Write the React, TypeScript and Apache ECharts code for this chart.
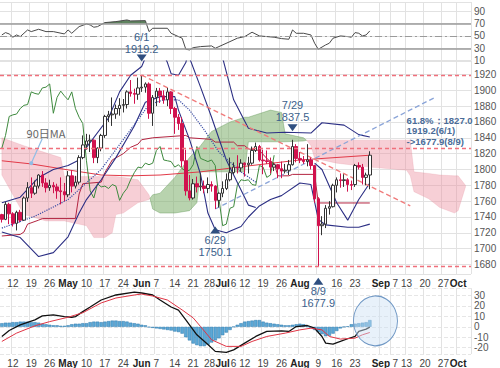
import React, { useEffect, useRef } from 'react';
import * as echarts from 'echarts';

// ---------- categories (trading days) ----------
const holidays = ['2021-05-31', '2021-07-05', '2021-09-06'];
const firstDay = '2021-04-07';
const dayCount = 128;
function tradingDays(start: string, count: number): string[] {
  const out: string[] = [];
  const d = new Date(start + 'T00:00:00Z');
  while (out.length < count) {
    const wd = d.getUTCDay();
    const s = d.toISOString().slice(0, 10);
    if (wd !== 0 && wd !== 6 && holidays.indexOf(s) < 0) out.push(s);
    d.setUTCDate(d.getUTCDate() + 1);
  }
  return out;
}
const dates = tradingDays(firstDay, dayCount);

const tickLabels: [string, string][] = [
  ['2021-04-12', '12'], ['2021-04-19', '19'], ['2021-04-26', '26'], ['2021-05-03', 'May'],
  ['2021-05-10', '10'], ['2021-05-17', '17'], ['2021-05-24', '24'], ['2021-06-01', 'Jun'],
  ['2021-06-07', '7'], ['2021-06-14', '14'], ['2021-06-21', '21'], ['2021-06-28', '28'],
  ['2021-07-01', 'Jul'], ['2021-07-06', '6'], ['2021-07-12', '12'], ['2021-07-19', '19'],
  ['2021-07-26', '26'], ['2021-08-02', 'Aug'], ['2021-08-09', '9'], ['2021-08-16', '16'],
  ['2021-08-23', '23'], ['2021-09-01', 'Sep'], ['2021-09-07', '7'], ['2021-09-13', '13'],
  ['2021-09-20', '20'], ['2021-09-27', '27'], ['2021-10-01', 'Oct'],
];
const monthNames = ['May', 'Jun', 'Jul', 'Aug', 'Sep', 'Oct'];
const nudgeRight = ['2021-07-06', '2021-09-07'];
const nudgeLeft = ['2021-06-28'];

// ---------- candles: [open, close, low, high] ----------
const candles: number[][] = [
  [1743, 1737, 1733, 1744], [1737, 1756, 1736, 1759], [1756, 1744, 1731, 1758], [1744, 1732, 1728, 1746],
  [1732, 1746, 1723, 1748], [1746, 1736, 1733, 1749], [1736, 1764, 1735, 1766], [1764, 1777, 1759, 1784],
  [1777, 1770, 1764, 1790], [1770, 1779, 1768, 1786], [1779, 1793, 1776, 1794], [1793, 1783, 1778, 1798],
  [1783, 1777, 1771, 1789], [1777, 1780, 1773, 1787], [1780, 1778, 1770, 1784], [1778, 1773, 1763, 1782],
  [1773, 1772, 1756, 1790], [1772, 1768, 1760, 1783], [1768, 1792, 1765, 1798], [1792, 1779, 1771, 1799],
  [1779, 1784, 1776, 1792], [1784, 1815, 1781, 1818], [1815, 1831, 1813, 1843], [1831, 1836, 1825, 1845],
  [1836, 1837, 1822, 1844], [1837, 1815, 1808, 1838], [1815, 1827, 1808, 1828], [1827, 1843, 1823, 1845],
  [1843, 1867, 1840, 1869], [1867, 1869, 1860, 1874], [1869, 1870, 1855, 1891], [1870, 1877, 1864, 1882],
  [1877, 1881, 1868, 1890], [1881, 1882, 1872, 1889], [1882, 1898, 1877, 1900], [1898, 1896, 1892, 1913],
  [1896, 1895, 1883, 1902], [1895, 1903, 1888, 1916], [1903, 1904, 1898, 1919.2], [1904, 1908, 1897, 1910],
  [1908, 1871, 1864, 1910], [1871, 1891, 1855, 1894], [1891, 1899, 1880, 1903], [1899, 1893, 1884, 1903],
  [1893, 1888, 1883, 1900], [1888, 1898, 1880, 1903], [1898, 1877, 1870, 1899], [1877, 1866, 1845, 1879],
  [1866, 1858, 1850, 1870], [1858, 1811, 1803, 1866], [1811, 1773, 1767, 1825], [1773, 1764, 1761, 1793],
  [1764, 1782, 1762, 1788], [1782, 1778, 1771, 1791], [1778, 1779, 1773, 1795], [1779, 1776, 1770, 1786],
  [1776, 1781, 1770, 1790], [1781, 1779, 1772, 1785], [1779, 1761, 1750.1, 1780], [1761, 1770, 1752, 1771],
  [1770, 1776, 1765, 1785], [1776, 1787, 1774, 1795], [1787, 1796, 1785, 1815], [1796, 1803, 1794, 1809],
  [1803, 1802, 1795, 1818], [1802, 1808, 1797, 1813], [1808, 1806, 1791, 1809], [1806, 1808, 1795, 1816],
  [1808, 1824, 1806, 1829], [1824, 1829, 1822, 1834], [1829, 1812, 1810, 1831], [1812, 1811, 1794, 1825],
  [1811, 1810, 1807, 1824], [1810, 1803, 1795, 1815], [1803, 1806, 1798, 1808], [1806, 1801, 1789, 1807],
  [1801, 1798, 1789, 1810], [1798, 1799, 1795, 1807], [1799, 1806, 1793, 1812], [1806, 1829, 1805, 1837.5],
  [1829, 1814, 1809, 1832], [1814, 1812, 1808, 1822], [1812, 1810, 1807, 1817], [1810, 1812, 1804, 1832],
  [1812, 1805, 1800, 1815], [1805, 1763, 1758, 1806], [1763, 1729, 1677.9, 1765], [1729, 1731, 1717, 1741],
  [1731, 1751, 1726, 1755], [1751, 1753, 1743, 1760], [1753, 1780, 1752, 1782], [1780, 1787, 1771, 1790],
  [1787, 1786, 1777, 1795], [1786, 1787, 1778, 1794], [1787, 1781, 1772, 1789], [1781, 1780, 1774, 1786],
  [1781, 1805, 1778, 1807], [1805, 1803, 1800, 1809], [1803, 1790, 1781, 1807], [1790, 1793, 1780, 1796],
  [1793, 1818, 1775, 1823],
];
const chikouShift = 26;

// ---------- Ichimoku cloud (index, span A, span B) ----------
const cloudIdx = [0, 6, 12, 16, 17, 23, 25, 28, 30, 31, 33, 37, 40, 41, 43, 47, 51, 53, 54, 57, 62, 66, 67, 73, 76, 77, 82, 83, 84, 85, 91, 100, 110, 111, 112, 116, 119, 123, 124, 126];
const spanA = [1793, 1743, 1735, 1735, 1735, 1729, 1714, 1714, 1720, 1743, 1745, 1758, 1762, 1768, 1770, 1790, 1815, 1825, 1830, 1848, 1860, 1866, 1866, 1875, 1872, 1845, 1840, 1836, 1830, 1814, 1808, 1803, 1799, 1792, 1772, 1763, 1752, 1745, 1748, 1778];
const spanB = [1840, 1830, 1821, 1815, 1791, 1791, 1791, 1791, 1791, 1791, 1790, 1787, 1768, 1750, 1745, 1745, 1748, 1758, 1797, 1797, 1797, 1797, 1835, 1835, 1835, 1835, 1836, 1837, 1837, 1837, 1837, 1837, 1837, 1837, 1797, 1795, 1793, 1792, 1792, 1780];

// ---------- line studies ([index, price]) ----------
const kijun = [[0, 1716], [5, 1718], [6, 1721], [7, 1731], [10, 1736], [11, 1738], [20, 1738], [21, 1769], [22, 1782], [27, 1784], [28, 1796], [30, 1812], [33, 1820], [35, 1828], [37, 1832], [38, 1837.6], [41, 1840], [50, 1843], [51, 1840], [57, 1838], [58, 1834.6], [63, 1834.6], [64, 1830], [66, 1830], [67, 1826], [70, 1824], [72, 1814], [73, 1810], [74, 1808], [75, 1792], [78, 1792], [79, 1793.8], [85, 1793.8], [86, 1757.7], [100, 1757.7]];
const ma90 = [[0, 1811], [8, 1807], [18, 1799.5], [27, 1793], [35, 1792], [43, 1793], [54, 1797], [67, 1804.5], [81, 1812], [100, 1818]];
const bandUpper = [[0, 1758], [5, 1765], [10, 1790], [14, 1800], [18, 1805], [21, 1812], [23, 1828], [29, 1865], [32, 1898], [35, 1919], [38, 1930], [39, 1941], [41, 1950], [44, 1945], [45, 1935], [46, 1921], [48, 1919], [50, 1935], [51, 1955], [56, 1970], [59, 1955], [60, 1941], [63, 1888], [67, 1852], [72, 1846], [77, 1847], [84, 1846], [87, 1859], [93, 1856], [97, 1844], [100, 1841]];
const bandLower = [[0, 1721], [5, 1714], [10, 1690], [14, 1695], [18, 1715], [21, 1745], [23, 1762], [27, 1787], [31, 1815], [36, 1855], [39, 1885], [43, 1892], [47, 1892], [48, 1875], [51, 1838], [54, 1794], [56, 1745], [58, 1724], [61, 1720], [65, 1728], [67, 1740], [70, 1754], [73, 1762], [76, 1767], [81, 1783], [84, 1781], [86, 1737], [88, 1730], [94, 1727], [97, 1727], [100, 1731]];
const bandInnerJun = [[51, 1941], [54, 1904], [57, 1866], [61, 1812], [65, 1774], [67, 1755], [69, 1752]];
const bandInnerAug = [[85, 1808], [87, 1800], [91, 1758], [94, 1736], [97, 1762], [100, 1783]];
const sarDots = [[0, 1726], [9, 1741], [18, 1762], [27, 1800], [34, 1844], [40, 1882], [44, 1888], [48, 1888], [51, 1875], [55, 1850], [59, 1822], [65, 1797], [69, 1784]];
const trendDown = [[38, 1919.2], [111, 1754]];
const trendUp = [[58, 1750.1], [118, 1891.7]];
const levels = [1919.2, 1827.0, 1677.9];

// ---------- RSI ----------
const rsi = [[0, 51.6], [1, 55.4], [2, 53.2], [3, 47.9], [4, 51.6], [5, 48.9], [7, 59.7], [8, 57], [10, 60.8], [12, 57], [14, 57], [17, 53.2], [18, 59.7], [19, 54.3], [21, 65.1], [23, 69.4], [24, 67.8], [25, 64.1], [26, 65.1], [28, 71.6], [31, 73.2], [34, 75.9], [35, 74.3], [39, 74.8], [40, 57], [41, 62.4], [45, 62.4], [46, 54.3], [48, 48.9], [49, 46.3], [50, 28.4], [51, 27.3], [52, 31], [54, 32.7], [57, 33.8], [58, 30], [59, 32.7], [62, 40.8], [64, 46.3], [66, 48.9], [68, 56], [70, 50], [74, 47.9], [76, 45.7], [78, 44.6], [79, 59.7], [80, 54.3], [82, 54.3], [84, 51.6], [85, 38.2], [86, 28.4], [88, 35.4], [89, 38.2], [90, 46.3], [92, 50], [94, 48.9], [95, 47.9], [96, 55.4], [97, 54.3], [98, 50], [99, 51.6], [100, 58.1]];
const rsiHotLevel = 70;

// ---------- MACD ----------
const macdHist = [3.5, 4, 4, 4.5, 4.5, 5, 5, 5, 4.5, 4.5, 4, 3, 2.5, 2, 1.5, 1.5, 1, 1, 1.5, 2.5, 3, 3, 3.5, 3.5, 4.5, 5, 5, 4.5, 5, 5.5, 6, 6, 5.5, 5.5, 5, 4, 3.5, 3, 2, 1.5, -0.5, -1, -1.5, -2, -2.5, -3, -3.5, -4.5, -5, -6.5, -10, -13, -16, -17.5, -18.5, -18.5, -17, -15, -13, -11, -8, -5.5, -3, 0, 2, 3.5, 5, 5.5, 6, 6.5, 6.5, 5, 4, 3.5, 3, 2.5, 2, 1.5, 1.5, 2, 2.5, 3, 2.5, 1, -1, -3, -5, -7, -9, -8.5, -6.5, -4, -1.5, 0, 0.5, 2.5, 3, 3.5, 4, 4.5, 6.5];
const macdLine = [[0, -9.2], [2, -3.5], [5, 1.9], [9, 6.7], [11, 10.5], [14, 11.4], [17, 9.8], [19, 9.2], [20, 9.8], [22, 14.6], [24, 19], [27, 25.7], [31, 30.5], [36, 33.3], [38, 32.4], [41, 30.5], [43, 25.7], [46, 19], [48, 16], [50, 6.7], [53, -7.6], [56, -17], [58, -23.5], [61, -24.5], [63, -22], [66, -15.6], [69, -9.2], [72, -4.4], [76, -3.8], [78, -4.4], [80, 0.3], [83, 1.3], [85, -1.3], [87, -9.2], [88, -15.6], [90, -16.5], [92, -14], [94, -11.4], [96, -9.2], [97, -4.4], [99, -2.2], [100, -0.3]];
const signalLine = [[0, -14], [4, -6], [9, 1], [13, 5], [18, 9.2], [22, 13.5], [27, 22.9], [31, 27.6], [36, 30.5], [38, 31.4], [41, 29.5], [45, 25.7], [49, 16.2], [52, 8.6], [54, 0.3], [57, -12.4], [61, -18.7], [65, -18.7], [68, -14], [72, -9.2], [77, -6], [81, -2.9], [84, -1.3], [87, -2.9], [89, -9.2], [92, -11.7], [96, -10.8], [98, -7.6], [100, -5.4]];

// ---------- styling ----------
const FONT = 'Liberation Sans, Arial, sans-serif';
const NOTE = '#3b5f8c';
const NAVY = '#2c2f84';

const labelMap = new Map(tickLabels);
const isTick = (_i: number, v: string) => labelMap.has(v);

function makeX(gridIndex: number, show: boolean, skip: string[] = []) {
  return {
    type: 'category', gridIndex, data: dates, boundaryGap: true,
    axisLine: { show: false }, axisTick: { show: false },
    axisLabel: {
      show, interval: isTick, fontSize: 10, color: '#444', margin: 4, fontFamily: FONT,
      formatter: (v: string) => {
        if (skip.indexOf(v) >= 0) return '';
        const t = labelMap.get(v) || '';
        if (monthNames.indexOf(t) >= 0) return `{m|${t}}`;
        if (nudgeRight.indexOf(v) >= 0) return `{r|${t}}`;
        if (nudgeLeft.indexOf(v) >= 0) return `{l|${t}}`;
        return t;
      },
      rich: {
        m: { fontSize: 10, fontWeight: 'bold', color: '#222', fontFamily: FONT },
        r: { fontSize: 10, color: '#444', fontFamily: FONT, padding: [0, 0, 0, 7] },
        l: { fontSize: 10, color: '#444', fontFamily: FONT, padding: [0, 4, 0, 0] },
      },
    },
    splitLine: { show: true, interval: isTick, lineStyle: { color: '#e2e2e2', width: 1 } },
  };
}

function yLabel() {
  return { fontSize: 10, color: '#555', margin: 3, fontFamily: FONT, showMinLabel: false, showMaxLabel: false, formatter: (v: number) => String(v) };
}

function lineSeries(data: number[][], color: string, width: number, dash: any = 'solid', extra: any = {}) {
  return {
    type: 'line', xAxisIndex: 1, yAxisIndex: 1, data, symbol: 'none', silent: true, z: 3,
    lineStyle: { color, width, type: dash }, ...extra,
  };
}

export default function App() {
  const ref = useRef<HTMLDivElement>(null);
  useEffect(() => {
    if (!ref.current) return;
    const chart = echarts.init(ref.current, undefined, { renderer: 'svg' });
    const chikou = candles.slice(chikouShift).map((c, i) => [i, c[1]]);

    const cloudRender = (params: any, api: any) => {
      if (params.dataIndex !== 0) return null;
      const pts = cloudIdx.map((ix, k) => ({ a: api.coord([ix, spanA[k]]), b: api.coord([ix, spanB[k]]), d: spanA[k] - spanB[k] }));
      const regions: any[] = [];
      let up: number[][] = [], lo: number[][] = [], sign: boolean | null = null;
      for (let k = 0; k < pts.length; k++) {
        const p = pts[k];
        const s = p.d >= 0;
        if (sign === null) { sign = s; up.push(p.a); lo.push(p.b); continue; }
        if (s !== sign) {
          const q = pts[k - 1];
          const t = q.d / (q.d - p.d);
          const c = [q.a[0] + t * (p.a[0] - q.a[0]), q.a[1] + t * (p.a[1] - q.a[1])];
          up.push(c); lo.push(c);
          regions.push({ sign, up, lo });
          up = [c]; lo = [c]; sign = s;
        }
        up.push(p.a); lo.push(p.b);
      }
      regions.push({ sign, up, lo });
      return {
        type: 'group',
        children: regions.map((r) => ({
          type: 'polygon',
          shape: { points: r.up.concat(r.lo.slice().reverse()) },
          style: { fill: r.sign ? 'rgba(125,175,108,0.55)' : 'rgba(236,140,158,0.42)', stroke: r.sign ? 'rgba(80,140,70,0.6)' : 'rgba(220,120,140,0.3)', lineWidth: 0.6 },
        })),
      };
    };

    const rsiHotRender = (params: any, api: any) => {
      if (params.dataIndex !== 0) return null;
      const polys: number[][][] = [];
      let cur: number[][] | null = null;
      for (let k = 0; k < rsi.length; k++) {
        const [ix, v] = rsi[k];
        const p = api.coord([ix, v]);
        const above = v > rsiHotLevel;
        if (k > 0) {
          const [pix, pv] = rsi[k - 1];
          const prevAbove = pv > rsiHotLevel;
          if (above !== prevAbove) {
            const q = api.coord([pix, pv]);
            const t = (pv - rsiHotLevel) / (pv - v);
            const c = [q[0] + t * (p[0] - q[0]), q[1] + t * (p[1] - q[1])];
            if (above) cur = [c];
            else if (cur) { cur.push(c); polys.push(cur); cur = null; }
          }
        }
        if (above && cur) cur.push(p);
      }
      return {
        type: 'group',
        children: polys.map((pts) => ({ type: 'polygon', shape: { points: pts }, style: { fill: 'rgba(40,90,40,0.75)' } })),
      };
    };

    const noteLabel = { color: NOTE, fontSize: 11, lineHeight: 12, fontFamily: FONT };

    const option: any = {
      animation: false,
      backgroundColor: '#ffffff',
      textStyle: { fontFamily: FONT },
      grid: [
        { left: 0, right: 29, top: 2, height: 58.6 },
        { left: 0, right: 29, top: 61, height: 213 },
        { left: 0, right: 29, top: 288.2, height: 66.1 },
      ],
      xAxis: [makeX(0, false), makeX(1, true, ['2021-08-09']), makeX(2, true)],
      yAxis: [
        { type: 'value', gridIndex: 0, position: 'right', min: 10, max: 105, interval: 20, axisLine: { show: false }, axisTick: { show: false }, axisLabel: { ...yLabel(), showMinLabel: true }, splitLine: { lineStyle: { color: '#e2e2e2' } } },
        { type: 'value', gridIndex: 1, position: 'right', min: 1668, max: 1937, minInterval: 20, maxInterval: 20, axisLine: { show: false }, axisTick: { show: false }, axisLabel: yLabel(), splitLine: { lineStyle: { color: '#e2e2e2' } } },
        { type: 'value', gridIndex: 2, position: 'right', min: -26, max: 37, minInterval: 10, maxInterval: 10, axisLine: { show: false }, axisTick: { show: false }, axisLabel: yLabel(), splitLine: { lineStyle: { color: '#e6e6e6', type: 'dashed' } } },
      ],
      series: [
        // RSI
        { type: 'custom', xAxisIndex: 0, yAxisIndex: 0, data: [[0, 50]], renderItem: rsiHotRender, silent: true, z: 2 },
        {
          type: 'line', xAxisIndex: 0, yAxisIndex: 0, data: rsi, symbol: 'none', silent: true, z: 3,
          lineStyle: { color: '#4a4a4a', width: 1 },
          markLine: {
            silent: true, symbol: ['none', 'none'], label: { show: false },
            data: [
              { yAxis: 70, lineStyle: { color: '#9a9a9a', width: 1.5, type: 'solid' } },
              { yAxis: 30, lineStyle: { color: '#9a9a9a', width: 1.5, type: 'solid' } },
              { yAxis: 50, lineStyle: { color: '#9a9a9a', width: 1, type: [7, 3, 2, 3] } },
            ],
          },
        },
        // cloud
        { type: 'custom', xAxisIndex: 1, yAxisIndex: 1, data: [[0, 1800]], renderItem: cloudRender, silent: true, z: 1 },
        // lines
        lineSeries(ma90, '#e23a48', 1, 'solid', {
          markLine: {
            silent: true, label: { show: false }, lineStyle: { color: '#8fbde6', width: 1.2, type: 'solid' },
            data: [[{ coord: ['2021-04-22', 1839], symbol: 'none' }, { coord: ['2021-04-19', 1808], symbol: 'circle', symbolSize: 4 }]],
          },
          markPoint: {
            symbolSize: 0,
            data: [{ coord: ['2021-04-23', 1846], label: { show: true, position: 'inside', formatter: '90日MA', color: '#666', fontSize: 11, fontFamily: 'Noto Sans CJK JP, Noto Sans, sans-serif' } }],
          },
        }),
        lineSeries(kijun, '#b32440', 1),
        lineSeries(chikou, '#3e8a3e', 1),
        lineSeries(bandUpper, NAVY, 1.1),
        lineSeries(bandLower, NAVY, 1.1),
        lineSeries(bandInnerJun, NAVY, 1.1),
        lineSeries(bandInnerAug, NAVY, 1.1),
        lineSeries(sarDots, '#3d4fa5', 1.2, 'dotted'),
        lineSeries(trendDown, '#f07a7a', 1.3, [5, 3]),
        lineSeries(trendUp, '#8aa4d8', 1.3, [5, 3]),
        // candles
        {
          type: 'candlestick', xAxisIndex: 1, yAxisIndex: 1, data: candles, barWidth: 3, z: 4, silent: true,
          itemStyle: { color: '#ffffff', color0: '#d1124e', borderColor: '#333333', borderColor0: '#d1124e', borderWidth: 1 },
          markLine: {
            silent: true, symbol: ['none', 'none'], label: { show: false },
            lineStyle: { color: '#f0707c', width: 1.3, type: [4, 3] },
            data: levels.map((v) => ({ yAxis: v })),
          },
          markPoint: {
            symbol: 'triangle', symbolSize: [10, 7], itemStyle: { color: '#2f4f80' },
            data: [
              { coord: ['2021-06-01', 1919.2], symbolRotate: 180, symbolOffset: [0, -17], label: { ...noteLabel, position: 'top', distance: 0, formatter: '6/1\n1919.2' } },
              { coord: ['2021-07-29', 1837.5], symbolRotate: 180, symbolOffset: [0, -12], label: { ...noteLabel, position: 'top', distance: 1, formatter: '7/29\n1837.5' } },
              { coord: ['2021-06-29', 1750.1], symbolOffset: [0, 21], label: { ...noteLabel, position: 'bottom', distance: 1, formatter: '6/29\n1750.1' } },
              { coord: ['2021-08-09', 1677.9], symbolOffset: [0, 15], label: { ...noteLabel, position: 'bottom', distance: 0, formatter: '8/9\n1677.9' } },
              { coord: ['2021-09-13', 1848.7], symbolSize: 0, label: { position: 'right', distance: 0, formatter: '61.8%：1827.0\n1919.2(6/1)\n->1677.9(8/9)', color: '#4a6c98', fontSize: 9.5, lineHeight: 10.5, fontWeight: 'bold', fontFamily: FONT } },
            ],
          },
        },
        // MACD
        {
          type: 'bar', xAxisIndex: 2, yAxisIndex: 2, data: macdHist, barCategoryGap: '8%', silent: true, z: 2,
          itemStyle: { color: '#5ba8d6', borderColor: '#2c78ad', borderWidth: 0.5 },
        },
        {
          type: 'line', xAxisIndex: 2, yAxisIndex: 2, data: macdLine, symbol: 'none', silent: true, z: 3,
          lineStyle: { color: '#111111', width: 1.3 },
          markPoint: {
            symbol: 'circle', symbolSize: [44, 50],
            itemStyle: { color: 'rgba(205,225,245,0.45)', borderColor: '#6f97c4', borderWidth: 1 },
            label: { show: false },
            data: [{ coord: ['2021-08-30', 5.7], symbolOffset: [2, 0] }],
          },
        },
        {
          type: 'line', xAxisIndex: 2, yAxisIndex: 2, data: signalLine, symbol: 'none', silent: true, z: 3,
          lineStyle: { color: '#e03545', width: 1 },
        },
      ],
    };
    chart.setOption(option);
    return () => chart.dispose();
  }, []);
  return <div ref={ref} style={{ position: 'absolute', left: 0, top: 0, width: 500, height: 368, background: '#fff' }} />;
}
